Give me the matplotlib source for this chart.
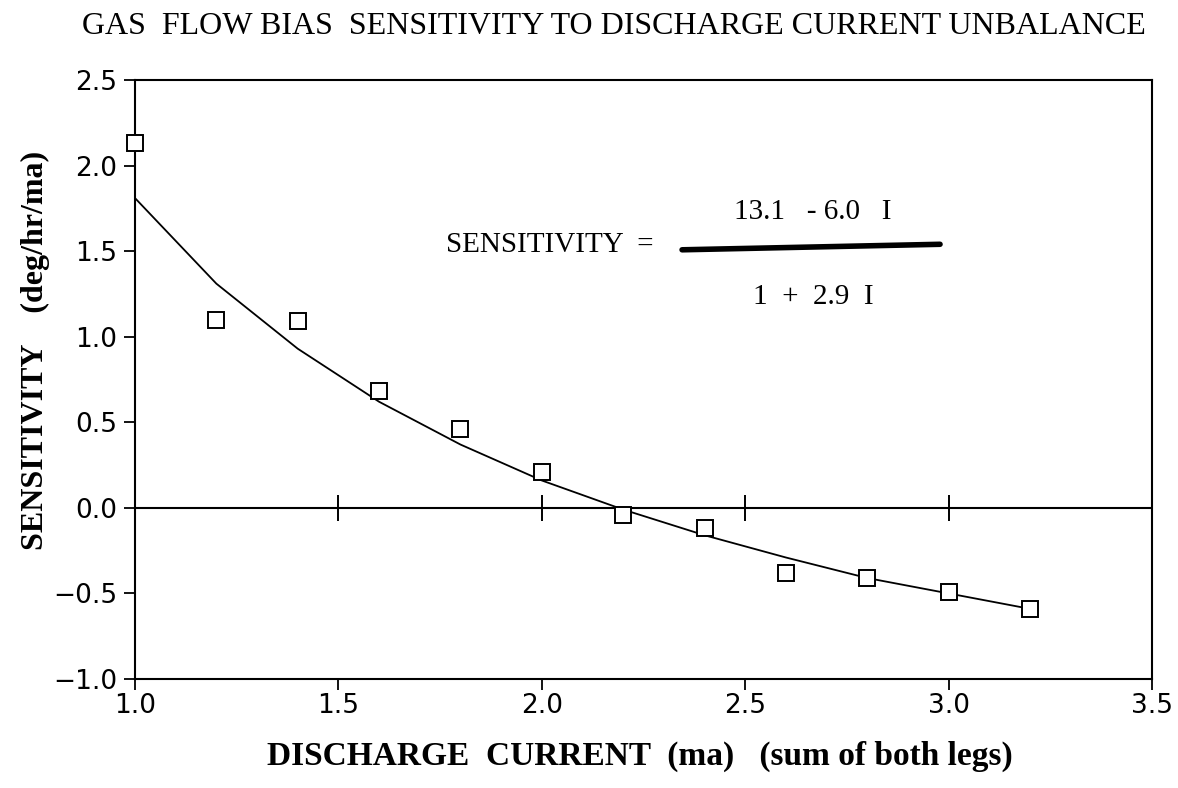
import matplotlib
matplotlib.use("Agg")
import matplotlib.pyplot as plt

# measured points (discharge current, sensitivity)
current = [1.0, 1.2, 1.4, 1.6, 1.8, 2.0, 2.2, 2.4, 2.6, 2.8, 3.0, 3.2]
sensitivity = [2.13, 1.10, 1.09, 0.68, 0.46, 0.21, -0.04, -0.12, -0.38, -0.41, -0.49, -0.59]

# fitted curve
fit_current = [1.0, 1.2, 1.4, 1.6, 1.8, 2.0, 2.2, 2.4, 2.6, 2.8, 3.0, 3.2]
fit_sensitivity = [1.81, 1.31, 0.93, 0.62, 0.37, 0.16, -0.01, -0.16, -0.29, -0.41, -0.50, -0.59]

xticks = [1.0, 1.5, 2.0, 2.5, 3.0, 3.5]
yticks = [-1.0, -0.5, 0.0, 0.5, 1.0, 1.5, 2.0, 2.5]

serif = ['Liberation Serif', 'DejaVu Serif']
sans = ['DejaVu Sans']

fig = plt.figure(figsize=(11.78, 7.88), dpi=100)
ax = fig.add_axes([0.1146, 0.1383, 0.8634, 0.7602])

ax.plot(fit_current, fit_sensitivity, color='black', lw=1.3)
ax.plot(current, sensitivity, ls='none', marker='s', ms=12,
        mfc='white', mec='black', mew=1.4, zorder=3, clip_on=False)

# zero line with cross ticks
ax.axhline(0, color='black', lw=1.5)
ax.plot(xticks[1:-1], [0] * 4, ls='none', marker='|', ms=19,
        mew=1.4, color='black')

ax.set_xlim(1.0, 3.5)
ax.set_ylim(-1.0, 2.5)
ax.set_xticks(xticks)
ax.set_yticks(yticks)
ax.set_xticklabels(['%.1f' % v for v in xticks], family=sans, fontsize=19)
ax.set_yticklabels(['\u2212%.1f' % -v if v < 0 else '%.1f' % v for v in yticks],
                   family=sans, fontsize=19)
ax.tick_params(axis='y', direction='out', length=8, width=1.3, pad=5)
ax.tick_params(axis='x', direction='out', length=8, width=1.3, pad=2)
for s in ax.spines.values():
    s.set_linewidth(1.5)

fig.text(0.521, 0.966, 'GAS  FLOW BIAS  SENSITIVITY TO DISCHARGE CURRENT UNBALANCE',
         ha='center', va='center', family=serif, fontsize=23)
fig.text(0.543, 0.04, 'DISCHARGE  CURRENT  (ma)   (sum of both legs)',
         ha='center', va='center', family=serif, fontsize=24, weight='bold')
fig.text(0.03, 0.555, 'SENSITIVITY    (deg/hr/ma)', rotation=90,
         ha='center', va='center', family=serif, fontsize=23, weight='bold')

# equation
fig.text(0.467, 0.689, 'SENSITIVITY  =', ha='center', va='center',
         family=serif, fontsize=21)
fig.text(0.69, 0.731, '13.1   - 6.0   I', ha='center', va='center',
         family=serif, fontsize=21)
fig.text(0.69, 0.623, '1  +  2.9  I', ha='center', va='center',
         family=serif, fontsize=21)
fig.add_artist(plt.Line2D([0.579, 0.798], [0.683, 0.690], color='black',
                          lw=4, solid_capstyle='round'))

plt.savefig('out.png', dpi=100)
